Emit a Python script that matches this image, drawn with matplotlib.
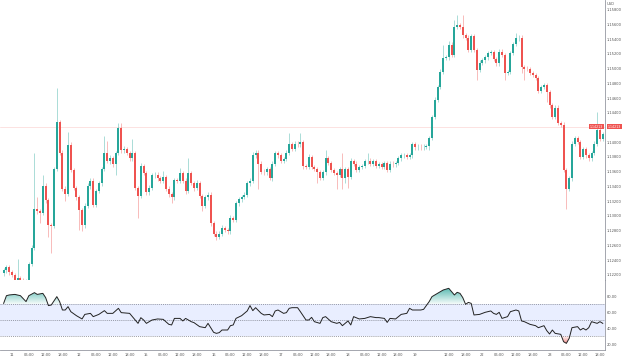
import numpy as np
import matplotlib.pyplot as plt
import matplotlib.transforms as mtransforms
from matplotlib.colors import LinearSegmentedColormap
from matplotlib.path import Path

# hourly candles, hours counted from day 11 00:00
hours = list(range(-3, 212))
first_open = 1.1222
closes = [
    1.1226, 1.1230, 1.1224, 1.1220, 1.1212, 1.1216, 1.1213, 1.1211, 1.1211, 1.1235,
    1.1257, 1.1310, 1.1306, 1.1304, 1.1341, 1.1321, 1.1287, 1.1286, 1.1364, 1.1427,
    1.1386, 1.1337, 1.1330, 1.1396, 1.1362, 1.1338, 1.1325, 1.1308, 1.1287, 1.1314,
    1.1341, 1.1348, 1.1315, 1.1334, 1.1344, 1.1364, 1.1386, 1.1375, 1.1378, 1.1370,
    1.1385, 1.1419, 1.1389, 1.1391, 1.1385, 1.1378, 1.1385, 1.1338, 1.1327, 1.1368,
    1.1358, 1.1332, 1.1338, 1.1355, 1.1356, 1.1351, 1.1347, 1.1353, 1.1337, 1.1330,
    1.1325, 1.1349, 1.1348, 1.1358, 1.1348, 1.1334, 1.1358, 1.1345, 1.1338, 1.1345,
    1.1327, 1.1314, 1.1325, 1.1329, 1.1290, 1.1276, 1.1272, 1.1276, 1.1283, 1.1281,
    1.1279, 1.1297, 1.1295, 1.1317, 1.1323, 1.1326, 1.1329, 1.1344, 1.1348, 1.1382,
    1.1386, 1.1371, 1.1360, 1.1359, 1.1364, 1.1352, 1.1371, 1.1385, 1.1382, 1.1375,
    1.1377, 1.1386, 1.1397, 1.1391, 1.1398, 1.1397, 1.1400, 1.1368, 1.1366, 1.1380,
    1.1366, 1.1364, 1.1359, 1.1352, 1.1359, 1.1378, 1.1372, 1.1362, 1.1358, 1.1356,
    1.1363, 1.1351, 1.1364, 1.1353, 1.1374, 1.1371, 1.1362, 1.1366, 1.1368, 1.1374,
    1.1375, 1.1371, 1.1374, 1.1368, 1.1370, 1.1367, 1.1372, 1.1362, 1.1371, 1.1370,
    1.1372, 1.1378, 1.1382, 1.1383, 1.1380, 1.1382, 1.1397, 1.1393, 1.1394, 1.1393,
    1.1394, 1.1395, 1.1406, 1.1434, 1.1457, 1.1475, 1.1495, 1.1514, 1.1515, 1.1532,
    1.1518, 1.1556, 1.1559, 1.1556, 1.1545, 1.1542, 1.1525, 1.1544, 1.1525, 1.1498,
    1.1508, 1.1511, 1.1515, 1.1521, 1.1522, 1.1513, 1.1507, 1.1523, 1.1518, 1.1494,
    1.1495, 1.1521, 1.1533, 1.1541, 1.1542, 1.1502, 1.1500, 1.1499, 1.1494, 1.1491,
    1.1487, 1.1470, 1.1475, 1.1477, 1.1468, 1.1450, 1.1434, 1.1447, 1.1426, 1.1424,
    1.1362, 1.1337, 1.1351, 1.1398, 1.1406, 1.1400, 1.1380, 1.1391, 1.1382, 1.1378,
    1.1385, 1.1398, 1.1416, 1.1405, 1.1411,
]
# wick lengths beyond the body, in pips
wick_up = [
    3, 3, 3, 3, 3, 26, 3, 3, 3, 3,
    3, 75, 15, 3, 14, 4, 3, 3, 3, 46,
    3, 3, 3, 18, 4, 3, 3, 3, 3, 3,
    3, 3, 4, 3, 3, 3, 23, 16, 5, 3,
    3, 7, 7, 4, 3, 3, 20, 3, 3, 4,
    3, 3, 4, 3, 4, 3, 3, 8, 3, 3,
    3, 3, 3, 7, 3, 3, 20, 3, 3, 4,
    3, 3, 4, 3, 3, 3, 3, 3, 4, 3,
    3, 4, 3, 3, 3, 3, 3, 4, 3, 5,
    4, 3, 3, 3, 3, 3, 3, 3, 3, 3,
    3, 3, 16, 3, 3, 3, 12, 3, 3, 4,
    3, 3, 3, 3, 3, 11, 3, 3, 3, 3,
    3, 23, 3, 3, 4, 3, 3, 3, 3, 3,
    11, 3, 3, 3, 3, 3, 3, 3, 3, 3,
    3, 3, 3, 3, 3, 3, 3, 3, 3, 3,
    3, 3, 3, 3, 4, 3, 4, 18, 4, 5,
    4, 10, 14, 3, 16, 3, 3, 3, 3, 3,
    3, 3, 3, 3, 3, 3, 3, 3, 3, 3,
    3, 3, 3, 7, 3, 3, 3, 3, 3, 3,
    3, 3, 3, 3, 3, 3, 3, 3, 3, 3,
    3, 3, 3, 3, 3, 3, 3, 3, 3, 3,
    3, 3, 25, 3, 3,
]
wick_dn = [
    4, 3, 4, 3, 4, 3, 4, 3, 3, 4,
    3, 3, 3, 14, 3, 3, 16, 37, 3, 3,
    3, 3, 10, 3, 3, 3, 3, 27, 7, 3,
    3, 4, 3, 3, 3, 3, 3, 3, 4, 3,
    15, 3, 3, 4, 3, 3, 3, 3, 30, 3,
    3, 3, 4, 3, 3, 4, 3, 3, 3, 4,
    8, 3, 4, 3, 3, 4, 3, 3, 4, 3,
    3, 7, 3, 3, 4, 3, 5, 3, 3, 3,
    3, 3, 3, 3, 3, 4, 3, 3, 3, 3,
    3, 34, 3, 4, 3, 3, 4, 3, 3, 3,
    3, 3, 3, 3, 3, 3, 3, 4, 3, 3,
    3, 3, 14, 3, 3, 3, 3, 3, 3, 19,
    3, 14, 7, 15, 3, 3, 3, 3, 3, 3,
    3, 3, 3, 3, 3, 3, 3, 3, 3, 3,
    3, 3, 3, 3, 3, 3, 3, 3, 3, 3,
    3, 3, 5, 3, 3, 3, 3, 3, 3, 3,
    3, 3, 3, 3, 3, 3, 3, 3, 3, 14,
    3, 3, 3, 3, 3, 3, 3, 3, 3, 10,
    3, 3, 3, 3, 3, 8, 16, 3, 3, 3,
    3, 3, 3, 3, 14, 3, 3, 3, 3, 3,
    3, 27, 3, 3, 3, 3, 3, 3, 3, 3,
    3, 3, 3, 3, 3,
]
last_price = 1.14213

# RSI readings
rsi_hours = [
    -3, -2, -1, 1, 3, 5, 6, 8, 9, 11,
    12, 13, 14, 16, 17, 18, 19, 20, 21, 23,
    25, 26, 28, 29, 31, 33, 34, 36, 38, 39,
    42, 43, 45, 46, 47, 48, 50, 52, 54, 56,
    57, 58, 60, 61, 62, 64, 65, 67, 69, 70,
    72, 73, 74, 75, 77, 78, 79, 80, 82, 84,
    85, 86, 87, 89, 90, 92, 93, 94, 95, 97,
    98, 99, 100, 102, 103, 105, 106, 107, 108, 110,
    111, 112, 114, 116, 117, 118, 120, 121, 122, 124,
    126, 128, 130, 131, 133, 134, 135, 137, 139, 141,
    142, 143, 146, 147, 149, 150, 152, 154, 156, 158,
    159, 160, 161, 162, 163, 164, 165, 167, 169, 171,
    172, 173, 174, 175, 177, 178, 180, 181, 182, 183,
    185, 187, 188, 190, 191, 192, 193, 194, 196, 197,
    198, 199, 200, 202, 203, 204, 205, 206, 207, 209,
    210, 211,
]
rsi_vals = [
    70.8, 80.4, 81.3, 82.0, 80.4, 73.0, 80.4, 84.2, 82.0, 83.3,
    78.0, 68.0, 68.7, 79.2, 73.0, 62.5, 62.5, 66.7, 60.4, 55.4,
    51.3, 57.0, 58.3, 54.2, 57.0, 61.7, 58.3, 58.3, 64.6, 59.2,
    58.3, 54.2, 45.8, 52.9, 50.0, 45.8, 50.0, 51.3, 50.8, 44.6,
    43.8, 52.0, 52.0, 48.8, 52.0, 47.9, 46.7, 41.7, 40.4, 45.8,
    34.6, 33.3, 34.2, 37.5, 37.5, 42.9, 43.8, 52.0, 55.4, 61.3,
    68.0, 61.7, 65.4, 58.3, 56.3, 57.0, 54.2, 61.3, 62.5, 58.3,
    59.2, 64.6, 65.4, 65.4, 60.4, 50.0, 50.0, 53.3, 47.9, 45.8,
    53.0, 54.2, 47.9, 45.8, 47.0, 42.9, 48.8, 43.8, 54.2, 51.3,
    52.0, 54.2, 53.0, 53.0, 52.0, 47.0, 52.0, 51.3, 57.0, 58.3,
    64.6, 62.5, 62.5, 63.3, 73.0, 79.2, 83.3, 87.5, 89.6, 81.3,
    84.6, 83.3, 78.0, 69.6, 72.0, 70.8, 56.3, 57.0, 59.6, 61.3,
    58.3, 57.0, 59.6, 52.0, 54.2, 60.4, 62.5, 61.3, 48.8, 47.9,
    44.6, 42.9, 40.4, 42.9, 36.7, 32.5, 37.5, 33.3, 32.1, 22.9,
    20.8, 27.0, 40.4, 41.7, 37.5, 39.6, 37.5, 40.4, 47.9, 45.8,
    47.9, 45.8,
]

tick_hours = [0, 6, 12, 18, 24, 30, 36, 42, 48, 54, 60, 66, 72, 78, 84, 90, 96,
              102, 108, 114, 120, 126, 132, 138, 144, 156, 162, 168, 174, 180,
              186, 192, 198, 204, 210]
tick_labels = ['11', '06:00', '12:00', '18:00', '12', '06:00', '12:00', '18:00',
               '15', '06:00', '12:00', '18:00', '16', '06:00', '12:00', '18:00',
               '17', '06:00', '12:00', '18:00', '18', '06:00', '12:00', '18:00',
               '19', '12:00', '18:00', '22', '06:00', '12:00', '18:00',
               '23', '06:00', '12:00', '18:00']
# 1.14200 sits under the last-price tag, so it has no label of its own
price_ticks = [1.122, 1.124, 1.126, 1.128, 1.130, 1.132, 1.134, 1.136, 1.138,
               1.140, 1.144, 1.146, 1.148, 1.150, 1.152, 1.154, 1.156, 1.158]
rsi_ticks = [20, 40, 60, 80]

GREEN = '#26a69a'
RED = '#ef5350'
TXT = '#555555'
EDGE = '#9598a1'
FS = 2.6

fig = plt.figure(figsize=(6.24, 3.59), dpi=100)
ax = fig.add_axes([0, 79 / 359, 605 / 624, 280 / 359])
ax2 = fig.add_axes([0, 9 / 359, 605 / 624, 70 / 359], sharex=ax)

# candles
c = np.array(closes)
o = np.concatenate([[first_open], c[:-1]])
hi = np.maximum(o, c) + np.array(wick_up) * 0.0001
lo = np.minimum(o, c) - np.array(wick_dn) * 0.0001
col = np.where(c >= o, GREEN, RED)
ax.vlines(hours, lo, hi, colors=col, lw=0.6, alpha=0.45, zorder=2)
ax.bar(hours, np.maximum(np.abs(c - o), 0.00007), bottom=np.minimum(o, c),
       width=0.68, color=col, lw=0, zorder=3)

ax.axhline(last_price, color=RED, lw=0.4, alpha=0.3, zorder=1)
trans = mtransforms.blended_transform_factory(ax.transAxes, ax.transData)
ax.text(0.9975, last_price, '1.14213', transform=trans, ha='right', va='center',
        fontsize=2.3, color='white', clip_on=False, zorder=6,
        bbox=dict(boxstyle='square,pad=0.25', fc=RED, ec='none'))
ax.text(1.004, last_price, '1.14213', transform=trans, ha='left', va='center',
        fontsize=2.3, color='white', clip_on=False, zorder=6,
        bbox=dict(boxstyle='square,pad=0.25', fc=RED, ec='none'))

ax.set_xlim(-4.3, 211.8)
ax.set_ylim(1.1213, 1.1593)
ax.yaxis.tick_right()
ax.set_yticks(price_ticks, ['%.5f' % p for p in price_ticks])
ax.tick_params(axis='y', length=0, pad=1.5, labelsize=FS, labelcolor=TXT)
ax.tick_params(axis='x', bottom=False, labelbottom=False)
fig.text(607 / 624, 1 - 4 / 359, 'USD', fontsize=FS, color=TXT, va='center')

# RSI panel
rx = np.array(rsi_hours)
ry = np.array(rsi_vals)
ax2.axhspan(30, 70, color='#2962ff', alpha=0.1, lw=0, zorder=0)
for lvl in (30, 50, 70):
    ax2.axhline(lvl, color='#787b86', lw=0.5, dashes=(1.5, 1.5), zorder=1)

grad = np.linspace(0, 1, 64).reshape(-1, 1)
cm_up = LinearSegmentedColormap.from_list(
    'up', [(0.15, 0.65, 0.6, 0.05), (0.15, 0.65, 0.6, 0.8)])
cm_dn = LinearSegmentedColormap.from_list(
    'dn', [(0.94, 0.33, 0.31, 0.8), (0.94, 0.33, 0.31, 0.05)])
over = ax2.fill_between(rx, 70, ry, where=ry > 70, interpolate=True,
                        color='none', lw=0)
under = ax2.fill_between(rx, 30, ry, where=ry < 30, interpolate=True,
                         color='none', lw=0)
img1 = ax2.imshow(grad, extent=[rx.min(), rx.max(), 70, 91], origin='lower',
                  aspect='auto', cmap=cm_up, zorder=2)
img1.set_clip_path(Path.make_compound_path(*over.get_paths()), ax2.transData)
img2 = ax2.imshow(grad, extent=[rx.min(), rx.max(), 19, 30], origin='lower',
                  aspect='auto', cmap=cm_dn, zorder=2)
img2.set_clip_path(Path.make_compound_path(*under.get_paths()), ax2.transData)

ax2.plot(rx, ry, color='#222222', lw=0.7, zorder=3)

ax2.set_xlim(-4.3, 211.8)
ax2.set_ylim(12.5, 100)
ax2.yaxis.tick_right()
ax2.set_yticks(rsi_ticks, ['%.2f' % v for v in rsi_ticks])
ax2.set_xticks(tick_hours, tick_labels)
ax2.tick_params(length=0, labelsize=FS, labelcolor=TXT)
ax2.tick_params(axis='y', pad=1.5)
ax2.tick_params(axis='x', pad=2)

for a in (ax, ax2):
    a.spines['top'].set_visible(False)
    a.spines['left'].set_visible(False)
    a.spines['right'].set_color(EDGE)
    a.spines['bottom'].set_color(EDGE)
    a.spines['right'].set_linewidth(0.6)
    a.spines['bottom'].set_linewidth(0.6)
    a.set_facecolor('white')

fig.savefig('out.png', dpi=100)
